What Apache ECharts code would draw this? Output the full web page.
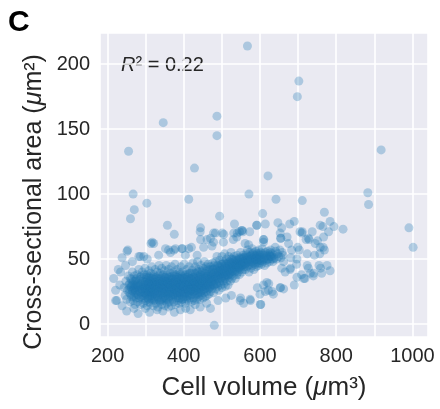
<!DOCTYPE html>
<html>
<head>
<meta charset="utf-8">
<title>Cross-sectional area vs cell volume</title>
<script src="https://cdn.jsdelivr.net/npm/echarts@6/dist/echarts.min.js"></script>
<style>
    html, body { margin: 0; padding: 0; background: #fff; }
    #chart { width: 440px; height: 409px; }
</style>
</head>
<body>
<div id="chart"></div>
<script>
// tick labels
var xTickLabels = [200, 400, 600, 800, 1000];
var yTickLabels = [0, 50, 100, 150, 200];

// points are [cell volume (um3), cross-sectional area (um2)]
// isolated points, far from the cloud
var outlierPoints = [
    [567, 214], [702, 187], [698, 175], [487, 160], [346, 155], [487, 145], [255, 133],
    [918, 134], [428, 120], [621, 114], [267, 100], [571, 100], [883, 101], [885, 92],
    [642, 96], [711, 95], [413, 96], [303, 93], [270, 88], [260, 81], [494, 83], [607, 85],
    [769, 86], [357, 76], [444, 74], [375, 69], [991, 74], [1002, 59], [480, -1]
];

// loose points to the right of the cloud
var rightFringe = [
    [533, 77], [591, 76], [614, 77], [647, 78], [678, 77], [690, 79], [657, 74], [711, 71],
    [737, 71], [758, 76], [784, 79], [794, 75], [818, 73], [765, 75], [552, 72], [573, 71],
    [501, 70], [539, 67], [671, 67], [655, 66], [729, 65], [751, 64], [609, 65], [699, 59],
    [766, 59], [769, 57], [570, 61], [721, 65], [757, 54], [743, 53], [724, 54], [703, 57],
    [683, 57], [681, 51], [660, 53], [640, 59], [627, 55], [755, 45], [784, 41], [762, 39],
    [727, 43], [696, 46], [679, 42], [657, 43], [666, 40], [709, 38], [740, 37], [718, 35],
    [697, 36], [715, 35], [732, 39], [662, 48], [680, 43], [697, 50], [724, 45], [741, 39],
    [759, 43], [776, 45], [593, 28], [623, 31], [614, 25], [632, 25], [601, 15], [654, 28],
    [690, 30], [575, 18], [549, 20], [557, 16], [618, 32], [609, 30], [622, 26], [600, 23],
    [653, 28], [662, 27], [635, 23], [574, 19], [548, 18], [602, 15], [710, 70], [727, 66],
    [745, 62], [758, 59], [767, 67], [780, 71], [478, 70], [540, 70], [553, 72], [592, 76],
    [610, 65], [654, 66], [561, 62], [609, 63], [653, 70], [675, 62], [705, 71], [483, 70],
    [505, 69], [546, 71], [555, 71], [531, 70]
];

// loose points above the cloud
var upperFringe = [
    [253, 57], [238, 51], [265, 48], [314, 62], [317, 63], [286, 52], [334, 53], [360, 57],
    [378, 58], [396, 58], [413, 58], [444, 65], [470, 66], [504, 63], [530, 65], [251, 56],
    [304, 50], [365, 55], [352, 58], [374, 57], [395, 58], [420, 59], [404, 53], [435, 53],
    [452, 59], [474, 60], [478, 63], [461, 65], [321, 62], [247, 45], [234, 40], [282, 52],
    [443, 71], [295, 52]
];

// loose points below and left of the cloud
var lowerFringe = [
    [216, 35], [221, 26], [221, 18], [224, 18], [232, 30], [228, 42], [238, 14], [250, 10],
    [269, 12], [280, 8], [299, 12], [310, 9], [330, 11], [345, 10], [360, 13], [375, 9],
    [391, 11], [405, 12], [417, 11], [430, 15], [443, 13], [460, 16], [470, 12], [490, 18],
    [510, 20], [525, 22]
];

// dense cloud, outer part
var corePoints = [
    [243, 28], [246, 22], [248, 33], [250, 19], [252, 26], [254, 37], [255, 30], [257, 24], [259, 17], [260, 35],
    [261, 28], [263, 21], [264, 31], [265, 40], [266, 25], [267, 18], [268, 33], [269, 27], [270, 22], [270, 37],
    [271, 30], [272, 15], [273, 26], [274, 34], [275, 20], [276, 28], [277, 38], [278, 23], [279, 17], [280, 31],
    [281, 26], [282, 42], [283, 20], [284, 34], [285, 29], [286, 15], [287, 24], [288, 37], [289, 31], [290, 19],
    [290, 27], [291, 40], [292, 22], [293, 33], [294, 16], [295, 28], [295, 36], [296, 24], [297, 30], [298, 20],
    [298, 43], [299, 26], [300, 34], [300, 18], [301, 29], [302, 23], [303, 38], [304, 14], [304, 31], [305, 25],
    [306, 20], [306, 35], [307, 28], [308, 41], [308, 17], [309, 32], [309, 24], [310, 27], [310, 37], [310, 21],
    [311, 30], [312, 16], [313, 25], [313, 39], [314, 33], [315, 22], [316, 28], [316, 44], [317, 19], [318, 35],
    [318, 26], [319, 31], [320, 14], [320, 23], [321, 38], [322, 29], [322, 18], [323, 34], [324, 25], [325, 42],
    [325, 21], [326, 30], [327, 16], [327, 36], [328, 27], [329, 33], [330, 20], [330, 40], [331, 24], [332, 31],
    [332, 13], [333, 37], [334, 28], [334, 19], [335, 45], [336, 33], [336, 23], [337, 26], [338, 39], [338, 17],
    [339, 30], [340, 22], [340, 35], [341, 28], [342, 43], [342, 15], [343, 32], [344, 25], [345, 20], [345, 38],
    [346, 29], [347, 34], [347, 18], [348, 24], [349, 41], [349, 31], [350, 27], [350, 14], [351, 36], [352, 22],
    [352, 30], [353, 19], [354, 33], [354, 45], [355, 26], [356, 38], [356, 16], [357, 29], [358, 23], [359, 35],
    [359, 31], [360, 20], [360, 42], [361, 27], [362, 33], [362, 17], [363, 24], [364, 39], [364, 30], [365, 21],
    [366, 36], [366, 28], [367, 14], [368, 32], [368, 44], [369, 25], [370, 19], [370, 35], [371, 29], [372, 23],
    [372, 40], [373, 31], [374, 17], [374, 27], [375, 37], [376, 22], [376, 33], [377, 46], [378, 26], [378, 15],
    [379, 30], [380, 20], [380, 38], [381, 34], [382, 24], [382, 28], [383, 42], [384, 18], [384, 31], [385, 36],
    [386, 22], [386, 27], [387, 33], [388, 16], [388, 40], [389, 29], [390, 24], [390, 35], [391, 20], [392, 31],
    [392, 44], [393, 26], [394, 17], [394, 37], [395, 29], [396, 22], [396, 33], [397, 40], [398, 25], [398, 19],
    [399, 35], [400, 28], [400, 31], [401, 46], [402, 21], [402, 38], [403, 27], [404, 33], [404, 16], [405, 24],
    [406, 36], [406, 30], [407, 19], [408, 42], [408, 27], [409, 34], [410, 22], [410, 31], [411, 38], [412, 25],
    [412, 18], [413, 29], [414, 35], [414, 44], [415, 23], [416, 32], [416, 27], [417, 20], [418, 39], [418, 30],
    [419, 26], [420, 35], [420, 17], [421, 29], [422, 41], [422, 23], [423, 33], [424, 27], [424, 47], [425, 20],
    [426, 36], [426, 31], [427, 25], [428, 39], [428, 18], [429, 32], [430, 28], [430, 44], [431, 22], [432, 35],
    [432, 30], [433, 26], [434, 41], [434, 19], [435, 33], [436, 28], [436, 48], [437, 24], [438, 37], [438, 31],
    [439, 21], [440, 34], [440, 42], [441, 27], [442, 30], [442, 19], [443, 38], [444, 25], [444, 33], [445, 45],
    [446, 29], [446, 22], [447, 36], [448, 31], [448, 40], [449, 26], [450, 34], [450, 20], [451, 43], [452, 29],
    [452, 37], [453, 24], [454, 32], [454, 48], [455, 27], [456, 39], [456, 21], [457, 35], [458, 30], [458, 44],
    [459, 25], [460, 37], [460, 33], [461, 22], [462, 41], [462, 29], [463, 35], [464, 27], [464, 46], [465, 31],
    [466, 38], [466, 23], [467, 34], [468, 42], [468, 28], [469, 32], [470, 37], [470, 25], [471, 44], [472, 30],
    [472, 35], [473, 40], [474, 27], [475, 33], [476, 47], [476, 38], [477, 31], [478, 42], [478, 24], [479, 36],
    [480, 30], [480, 45], [481, 39], [482, 33], [483, 48], [484, 27], [485, 36], [486, 42], [486, 31], [487, 52],
    [488, 38], [489, 29], [490, 45], [490, 35], [491, 41], [492, 26], [493, 37], [494, 49], [494, 32], [495, 43],
    [496, 39], [497, 30], [498, 46], [498, 35], [499, 41], [500, 28], [500, 52], [501, 37], [502, 44], [503, 33],
    [504, 40], [504, 48], [505, 31], [506, 37], [507, 54], [507, 43], [508, 35], [509, 29], [510, 46], [510, 40],
    [511, 38], [512, 50], [513, 33], [514, 43], [515, 37], [516, 47], [516, 30], [517, 41], [518, 52], [519, 36],
    [520, 44], [520, 39], [521, 48], [522, 33], [523, 42], [524, 55], [524, 38], [525, 45], [526, 35], [527, 50],
    [528, 41], [529, 46], [530, 37], [531, 43], [532, 52], [533, 40], [534, 47], [535, 35], [536, 44], [537, 49],
    [538, 41], [539, 38], [540, 53], [541, 45], [542, 40], [543, 48], [544, 43], [545, 51], [546, 38], [547, 46],
    [548, 42], [549, 55], [550, 47], [551, 44], [552, 40], [553, 50], [554, 45], [555, 53], [556, 42], [557, 48],
    [558, 44], [559, 51], [560, 46], [561, 49], [562, 42], [563, 54], [564, 47], [565, 51], [566, 44], [567, 57],
    [568, 49], [569, 45], [570, 52], [571, 40], [572, 48], [573, 55], [574, 46], [575, 50], [576, 43], [577, 53],
    [578, 48], [579, 58], [580, 45], [581, 51], [582, 47], [583, 55], [584, 42], [585, 49], [586, 53], [587, 46],
    [588, 50], [589, 56], [590, 44], [591, 51], [592, 48], [593, 54], [594, 47], [595, 52], [596, 45], [597, 57],
    [598, 50], [599, 47], [600, 53], [601, 49], [602, 55], [604, 46], [605, 51], [606, 58], [608, 48], [609, 53],
    [611, 50], [612, 45], [614, 55], [615, 49], [617, 52], [618, 47], [620, 56], [622, 50], [623, 54], [625, 48],
    [627, 52], [628, 57], [630, 50], [632, 54], [634, 48], [636, 53], [638, 51], [641, 56], [643, 50], [646, 54],
    [649, 52], [652, 57], [655, 51], [658, 55]
];

// dense cloud, innermost part
var coreInner = [
    [256, 27], [258, 31], [260, 23], [262, 29], [263, 34], [265, 26], [267, 30], [268, 21], [270, 28], [272, 33],
    [273, 24], [275, 29], [276, 35], [278, 27], [279, 31], [281, 22], [282, 29], [284, 25], [285, 36], [287, 30],
    [288, 21], [289, 27], [291, 33], [292, 25], [294, 30], [295, 22], [296, 38], [297, 27], [299, 32], [300, 24],
    [301, 27], [302, 36], [303, 30], [304, 22], [305, 33], [306, 27], [307, 19], [308, 31], [309, 36], [310, 25],
    [311, 28], [312, 33], [313, 20], [314, 29], [315, 35], [316, 24], [317, 31], [318, 22], [319, 27], [320, 36],
    [321, 30], [322, 25], [323, 19], [324, 32], [325, 28], [326, 35], [327, 23], [328, 30], [329, 26], [330, 33],
    [331, 21], [332, 28], [333, 35], [334, 25], [335, 31], [336, 18], [337, 29], [338, 34], [339, 24], [340, 31],
    [341, 19], [342, 27], [343, 37], [344, 30], [345, 24], [346, 33], [347, 27], [348, 21], [349, 36], [350, 30],
    [351, 24], [352, 33], [353, 28], [354, 20], [355, 35], [356, 30], [357, 25], [358, 32], [359, 19], [360, 28],
    [361, 36], [362, 24], [363, 31], [364, 27], [365, 34], [366, 22], [367, 29], [368, 37], [369, 26], [370, 31],
    [371, 21], [372, 34], [373, 28], [374, 23], [375, 32], [376, 38], [377, 27], [378, 30], [379, 22], [380, 34],
    [381, 26], [382, 36], [383, 29], [384, 24], [385, 32], [386, 20], [387, 28], [388, 35], [389, 25], [390, 31],
    [391, 38], [392, 23], [393, 30], [394, 27], [395, 34], [396, 19], [397, 29], [398, 36], [399, 31], [400, 24],
    [401, 29], [402, 35], [403, 23], [404, 30], [405, 38], [406, 26], [407, 32], [408, 21], [409, 29], [410, 36],
    [411, 27], [412, 33], [413, 24], [414, 30], [415, 39], [416, 22], [417, 31], [418, 26], [419, 35], [420, 29],
    [421, 34], [422, 27], [423, 38], [424, 31], [425, 25], [426, 33], [427, 29], [428, 36], [429, 23], [430, 32],
    [431, 39], [432, 26], [433, 30], [434, 35], [435, 28], [436, 23], [437, 33], [438, 40], [439, 29], [440, 26],
    [441, 36], [442, 31], [443, 24], [444, 38], [445, 30], [446, 34], [447, 27], [448, 41], [449, 32], [450, 29],
    [452, 35], [454, 27], [455, 39], [457, 31], [458, 36], [460, 28], [461, 42], [463, 32], [464, 37], [466, 30],
    [467, 44], [469, 35], [470, 29], [472, 39], [473, 33], [475, 42], [476, 35], [478, 30], [479, 39], [481, 34],
    [482, 43], [484, 37], [485, 31], [487, 40], [488, 45], [490, 36], [491, 40], [493, 33], [494, 44], [496, 38],
    [497, 42], [499, 35], [500, 46], [502, 39], [503, 42], [505, 36], [506, 47], [508, 40], [509, 44], [511, 37],
    [512, 46], [514, 40], [515, 44], [517, 38], [518, 48], [520, 42], [521, 46], [523, 40], [524, 50], [526, 43],
    [527, 47], [529, 41], [530, 49], [532, 44], [533, 48], [535, 42], [537, 50], [538, 46], [540, 44], [542, 49],
    [543, 46], [545, 44], [547, 50], [548, 47], [550, 45], [552, 51], [553, 48], [555, 46], [557, 51], [558, 48],
    [562, 47], [565, 53], [568, 50], [571, 48], [574, 52], [577, 50], [580, 54], [583, 49], [586, 52], [589, 50],
    [592, 53], [595, 49], [598, 54], [601, 51], [605, 49], [608, 54], [612, 51], [616, 53], [620, 50], [625, 53],
    [630, 52], [635, 50]
];

var FONT = '"Liberation Sans", Arial, Helvetica, sans-serif';
var TEXT_COLOR = '#262626';

var chart = echarts.init(document.getElementById('chart'));

var allPoints = outlierPoints.concat(rightFringe, upperFringe, lowerFringe, corePoints, coreInner);

var option = {
    animation: false,
    textStyle: {fontFamily: FONT},
    grid: {
        left: 100,
        right: 12,
        top: 33,
        bottom: 72,
        show: true,
        backgroundColor: '#EAEAF2',
        borderWidth: 0
    },
    xAxis: {
        type: 'value',
        min: 180,
        max: 1041,
        splitNumber: 9,
        axisLine: {show: false},
        axisTick: {show: false},
        splitLine: {lineStyle: {color: '#ffffff', width: 1.6}},
        axisLabel: {
            fontSize: 20,
            color: TEXT_COLOR,
            margin: 9,
            formatter: function (v) {
                return xTickLabels.indexOf(v) >= 0 ? String(v) : '';
            }
        },
        name: 'Cell volume ({i|μ}m³)',
        nameLocation: 'middle',
        nameGap: 38,
        nameTextStyle: {
            fontSize: 26,
            color: TEXT_COLOR,
            rich: {i: {fontSize: 26, fontStyle: 'italic', color: TEXT_COLOR, fontFamily: FONT}}
        }
    },
    yAxis: {
        type: 'value',
        min: -10,
        max: 224,
        splitNumber: 5,
        axisLine: {show: false},
        axisTick: {show: false},
        splitLine: {lineStyle: {color: '#ffffff', width: 1.6}},
        axisLabel: {
            fontSize: 20,
            color: TEXT_COLOR,
            margin: 10,
            formatter: function (v) {
                return yTickLabels.indexOf(v) >= 0 ? String(v) : '';
            }
        }
    },
    graphic: [
        {
            type: 'text',
            left: 8,
            top: 8,
            style: {text: 'C', fontSize: 30, fontWeight: 'bold', fill: '#000', fontFamily: FONT}
        },
        {
            // y axis title
            type: 'text',
            x: 34,
            y: 202,
            rotation: Math.PI / 2,
            style: {
                text: 'Cross-sectional area ({i|μ}m²)',
                fontSize: 25,
                fill: TEXT_COLOR,
                fontFamily: FONT,
                align: 'center',
                verticalAlign: 'middle',
                rich: {i: {fontSize: 25, fontStyle: 'italic', fill: TEXT_COLOR, fontFamily: FONT}}
            }
        },
        {
            type: 'text',
            left: 121,
            top: 55,
            style: {
                text: '{i|R}² = 0.22',
                fontSize: 20,
                fill: TEXT_COLOR,
                fontFamily: FONT,
                rich: {i: {fontSize: 20, fontStyle: 'italic', fill: TEXT_COLOR, fontFamily: FONT}}
            }
        }
    ],
    series: [
        {
            type: 'scatter',
            data: allPoints,
            symbolSize: 9,
            itemStyle: {color: '#1f77b4', opacity: 0.3}
        }
    ]
};

chart.setOption(option);
</script>
</body>
</html>
